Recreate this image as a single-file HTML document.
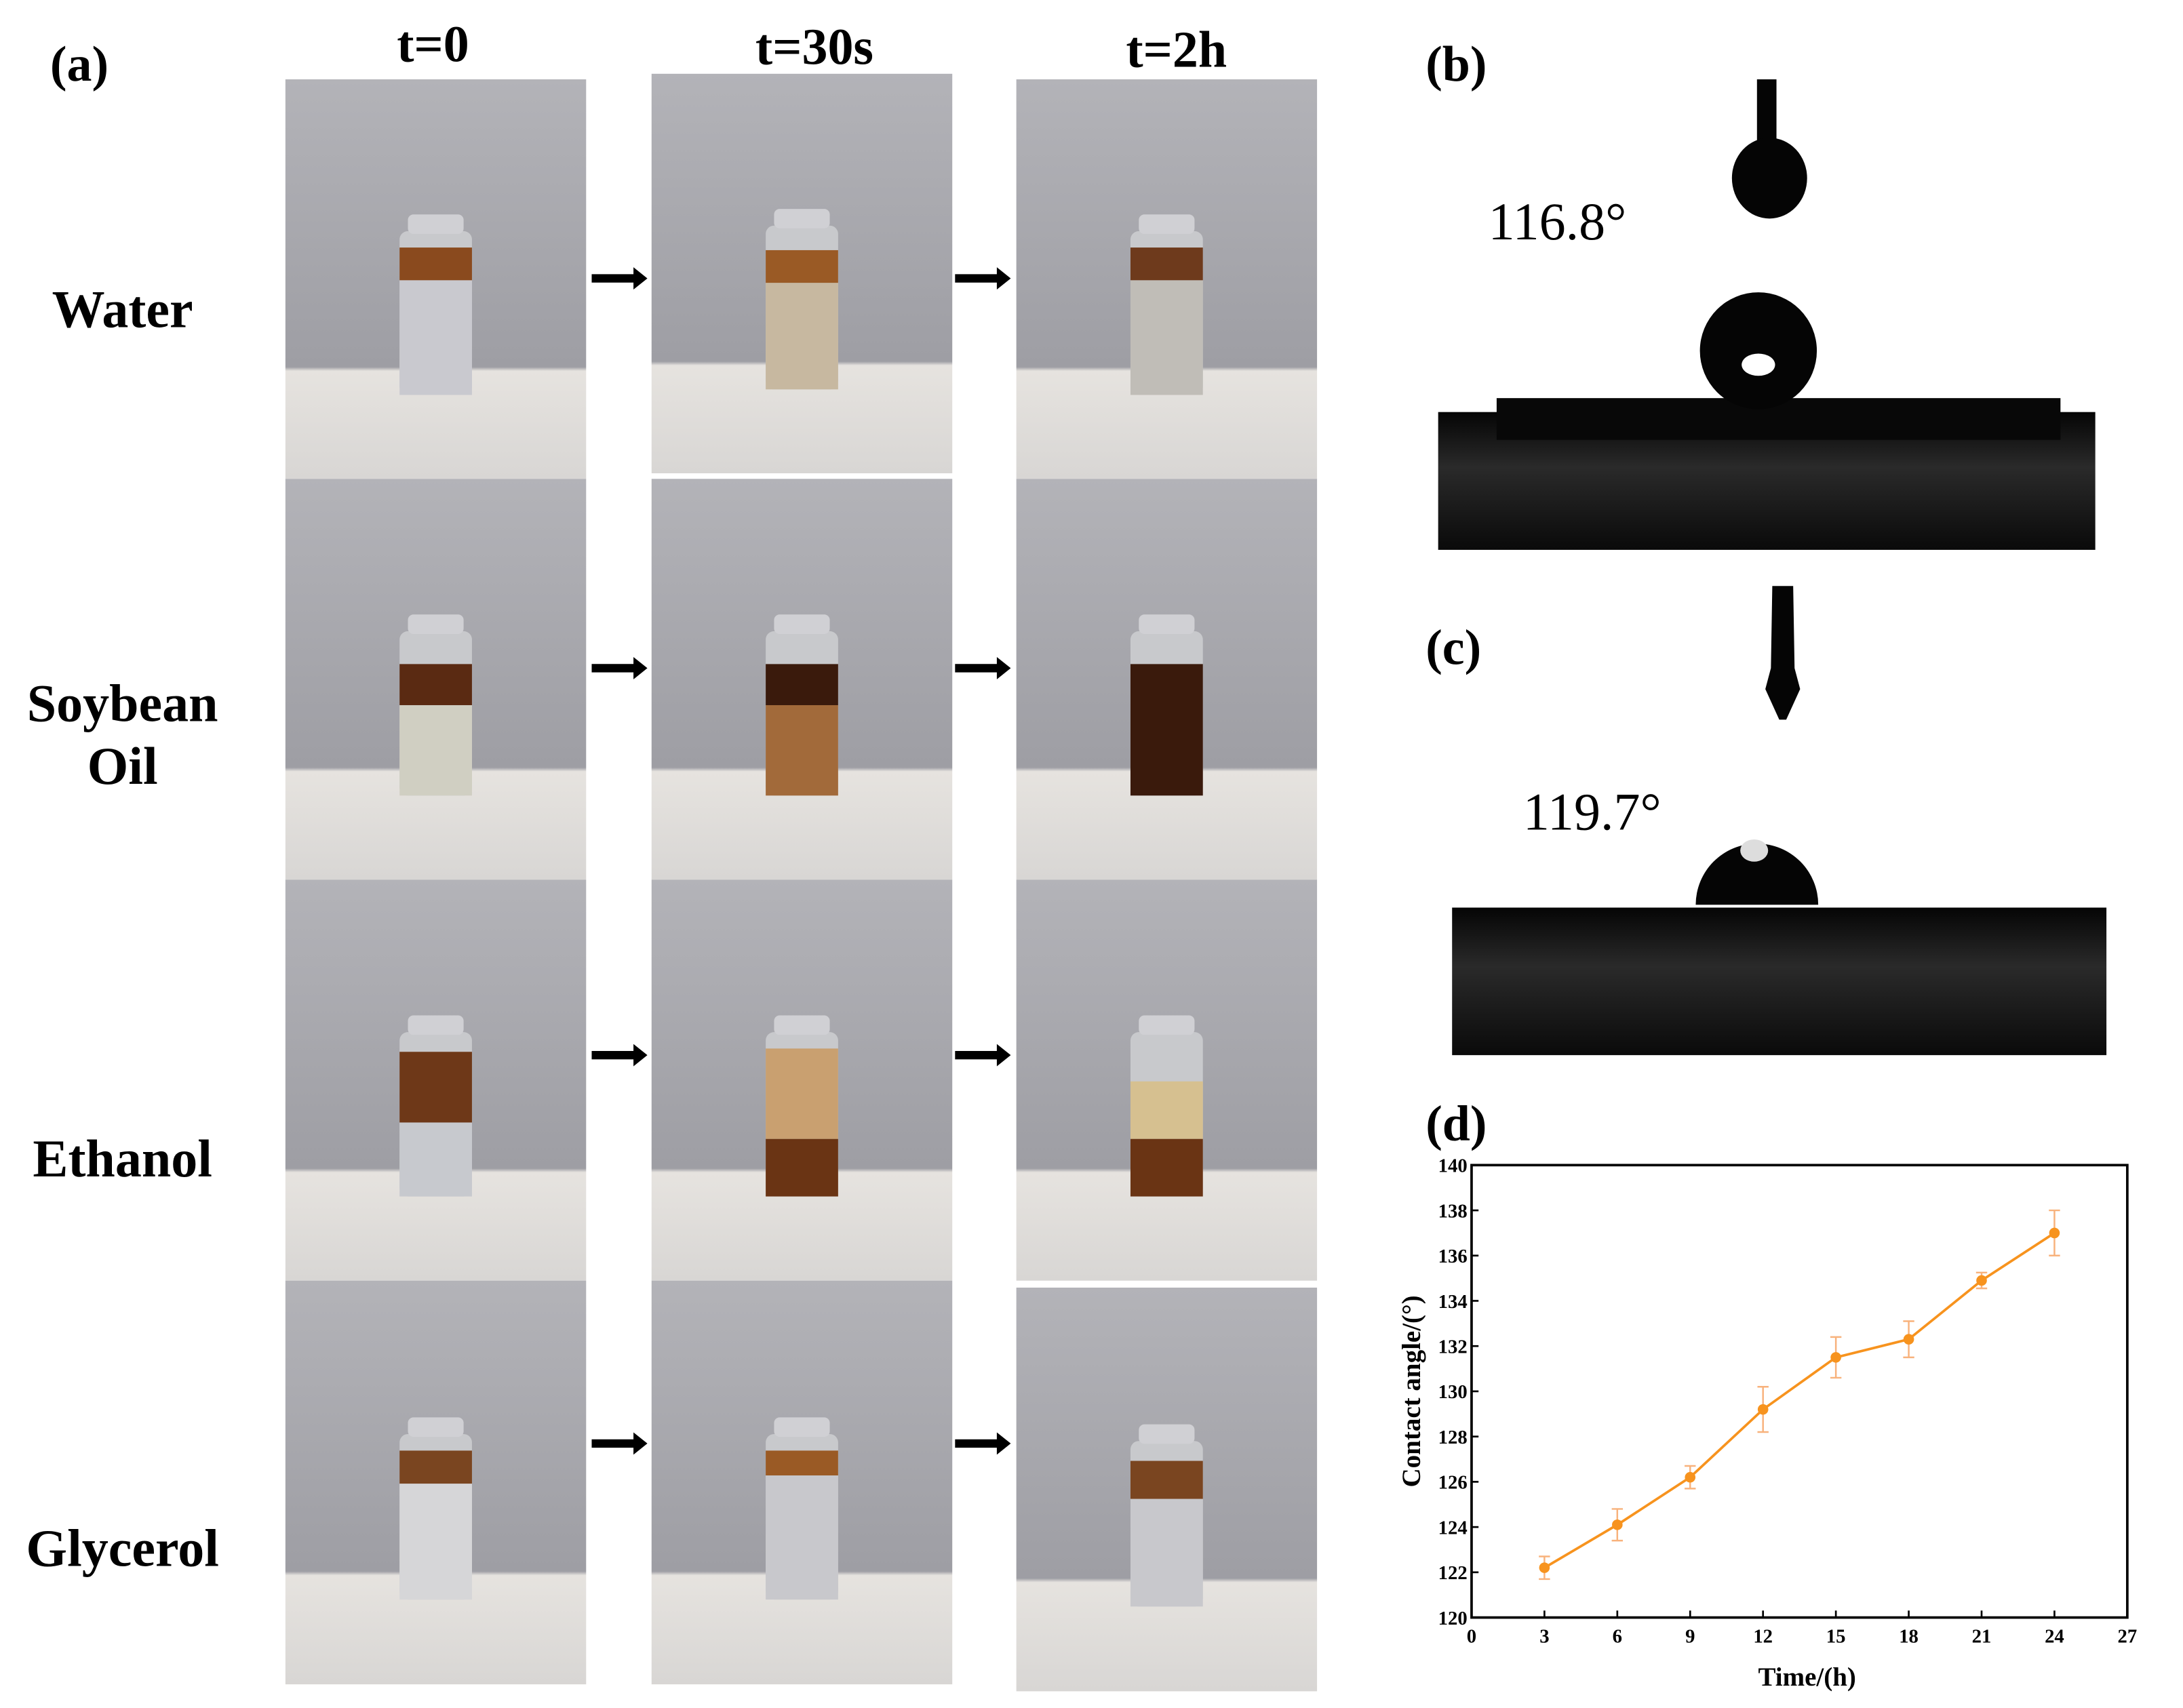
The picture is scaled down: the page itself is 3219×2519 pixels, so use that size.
<!DOCTYPE html>
<html><head><meta charset="utf-8">
<style>
html,body{margin:0;padding:0;background:#fff;}
svg{display:block;}
text{font-family:"Liberation Serif",serif;}
</style></head>
<body>
<svg id="fig" width="3219" height="2519" viewBox="0 0 1568 1227" preserveAspectRatio="none" xmlns="http://www.w3.org/2000/svg">
<defs>
<linearGradient id="bg" x1="0" y1="0" x2="0" y2="1">
<stop offset="0" stop-color="#b3b3b8"/><stop offset="0.72" stop-color="#9e9ea4"/>
<stop offset="0.73" stop-color="#e6e3df"/><stop offset="1" stop-color="#d8d6d4"/>
</linearGradient>
<linearGradient id="blk" x1="0" y1="0" x2="0" y2="1">
<stop offset="0" stop-color="#050505"/><stop offset="0.4" stop-color="#2a2a2a"/><stop offset="1" stop-color="#0a0a0a"/>
</linearGradient>
</defs>
<text x="36" y="58" font-size="36" font-weight="bold">(a)</text>
<text x="311" y="44" font-size="37" font-weight="bold" text-anchor="middle">t=0</text>
<text x="585" y="46" font-size="37" font-weight="bold" text-anchor="middle">t=30s</text>
<text x="845" y="48" font-size="37" font-weight="bold" text-anchor="middle">t=2h</text>
<text x="88" y="235" font-size="38" font-weight="bold" text-anchor="middle">Water</text>
<text x="88" y="518" font-size="38" font-weight="bold" text-anchor="middle">Soybean</text>
<text x="88" y="563" font-size="38" font-weight="bold" text-anchor="middle">Oil</text>
<text x="88" y="845" font-size="38" font-weight="bold" text-anchor="middle">Ethanol</text>
<text x="88" y="1125" font-size="38" font-weight="bold" text-anchor="middle">Glycerol</text>
<g id="photos"></g>
<text x="1024" y="58" font-size="36" font-weight="bold">(b)</text>
<g>
<rect x="1033" y="296" width="472" height="99" fill="url(#blk)"/>
<rect x="1075" y="286" width="405" height="30" fill="#080808"/>
<circle cx="1263" cy="252" r="42" fill="#050505"/>
<ellipse cx="1263" cy="262" rx="12" ry="8" fill="#fff"/>
<rect x="1262" y="57" width="14" height="60" fill="#050505"/>
<ellipse cx="1271" cy="128" rx="27" ry="29" fill="#050505"/>
</g>
<text x="1069" y="172" font-size="38">116.8°</text>
<text x="1024" y="477" font-size="36" font-weight="bold">(c)</text>
<g>
<rect x="1043" y="652" width="470" height="106" fill="url(#blk)"/>
<path d="M1218 650 A44 44 0 1 1 1306 650 Z" fill="#050505"/>
<ellipse cx="1260" cy="611" rx="10" ry="8" fill="#ddd"/>
<path d="M1273 421 L1288 421 L1289 480 L1293 495 L1283 517 L1278 517 L1268 495 L1272 480 Z" fill="#050505"/>
</g>
<text x="1094" y="596" font-size="38">119.7°</text>
<text x="1024" y="819" font-size="36" font-weight="bold">(d)</text>
<g id="chart"></g>
</svg>
<script>
const NS="http://www.w3.org/2000/svg";
function mk(tag,attrs,parent,txt){const e=document.createElementNS(NS,tag);for(const k in attrs)e.setAttribute(k,attrs[k]);if(txt!==undefined)e.textContent=txt;parent.appendChild(e);return e;}
// photos
const ph=document.getElementById('photos');
const colX=[205,468,730],colW=216;
const rowY=[[57,53,57],[344,344,344],[632,632,632],[920,920,925]],rowH=[287,288,288,290];
const bands=[[["#8a4a1e",0.1,0.3,"#c9c9cf"],["#9a5a25",0.15,0.35,"#c7b8a0"],["#6e3a1c",0.1,0.3,"#c0bdb7"]],
[["#5a2a12",0.2,0.45,"#d0cfc2"],["#3a1a0c",0.2,0.45,"#a26a3a"],["#3a1a0c",0.2,1,"#3a1a0c"]],
[["#6e3818",0.12,0.55,"#c7c9ce"],["#c9a070",0.1,0.65,"#6a3414"],["#d6c090",0.3,0.65,"#6a3414"]],
[["#7a4520",0.1,0.3,"#d6d6d8"],["#9a5a25",0.1,0.25,"#c8c8cc"],["#7a4520",0.12,0.35,"#c8c8cc"]]];
for(let r=0;r<4;r++)for(let c=0;c<3;c++){
 const x=colX[c],y=rowY[r][c],h=rowH[r];
 const g=mk('g',{},ph);
 
 
 mk('rect',{x:x,y:y,width:colW,height:h,fill:'url(#bg)'},g);
 const cx=x+colW/2,vt=y+h*0.38,vb=y+h*0.79,vw=52;
 mk('rect',{x:cx-vw/2,y:vt,width:vw,height:vb-vt,rx:6,fill:'#c8c9cc'},g);
 const b=bands[r][c],bh=vb-vt;
 mk('rect',{x:cx-vw/2,y:vt+bh*b[1],width:vw,height:bh*(b[2]-b[1]),fill:b[0]},g);
 mk('rect',{x:cx-vw/2,y:vt+bh*b[2],width:vw,height:bh*(1-b[2]),fill:b[3]},g);
 mk('rect',{x:cx-20,y:vt-12,width:40,height:14,rx:4,fill:'#d0d0d4'},g);
}
// arrows
const arrowX=[425,686],arrowY=[200,480,758,1037];
arrowY.forEach((ay,i)=>arrowX.forEach((ax,j)=>{
 const a=mk('path',{d:`M${ax} ${ay-3} L${ax+30} ${ay-3} L${ax+30} ${ay-8} L${ax+40} ${ay} L${ax+30} ${ay+8} L${ax+30} ${ay+3} L${ax} ${ay+3} Z`,fill:'#000'},ph);
 
 
}));
// chart data
const times=[3,6,9,12,15,18,21,24];
const angles=[122.2,124.1,126.2,129.2,131.5,132.3,134.9,137.0];
const errors=[0.5,0.7,0.5,1.0,0.9,0.8,0.35,1.0];
const xTicks=[0,3,6,9,12,15,18,21,24,27];
const yTicks=[120,122,124,126,128,130,132,134,136,138,140];
const L=1057,R=1528,T=837,B=1162;
const xs=v=>L+(v-0)/(27-0)*(R-L);
const ys=v=>B-(v-120)/(140-120)*(B-T);
const ch=document.getElementById('chart');
const frame=mk('rect',{x:L,y:T,width:R-L,height:B-T,fill:'none',stroke:'#000','stroke-width':1.8},ch);


xTicks.forEach(t=>{
 mk('line',{x1:xs(t),x2:xs(t),y1:B,y2:B-5,stroke:'#000','stroke-width':1.3},ch);
 const tl=mk('text',{x:xs(t),y:B+18,'font-size':14,'font-weight':'bold','text-anchor':'middle'},ch,String(t));
 
 
});
yTicks.forEach(t=>{
 mk('line',{x1:L,x2:L+5,y1:ys(t),y2:ys(t),stroke:'#000','stroke-width':1.3},ch);
 const tl=mk('text',{x:L-3,y:ys(t)+5,'font-size':14,'font-weight':'bold','text-anchor':'end'},ch,String(t));
 
 
});
const xt=mk('text',{x:1298,y:1211,'font-size':19,'font-weight':'bold','text-anchor':'middle'},ch,'Time/(h)');


const yt=mk('text',{x:0,y:0,'font-size':19,'font-weight':'bold','text-anchor':'middle',transform:`translate(1020,${(T+B)/2}) rotate(-90)`},ch,'Contact angle/(°)');


times.forEach((t,i)=>{
 const x=xs(t),y1=ys(angles[i]+errors[i]),y2=ys(angles[i]-errors[i]);
 const eb=mk('path',{d:`M${x} ${y1} L${x} ${y2} M${x-4} ${y1} L${x+4} ${y1} M${x-4} ${y2} L${x+4} ${y2}`,stroke:'#f8b27c','stroke-width':1.2,fill:'none'},ch);
 
 
});
const line=mk('polyline',{points:times.map((t,i)=>xs(t)+','+ys(angles[i])).join(' '),fill:'none',stroke:'#f7931e','stroke-width':1.8},ch);


times.forEach((t,i)=>{
 const p=mk('circle',{cx:xs(t),cy:ys(angles[i]),r:3.8,fill:'#f7931e'},ch);
 
 
});
</script>
</body></html>
